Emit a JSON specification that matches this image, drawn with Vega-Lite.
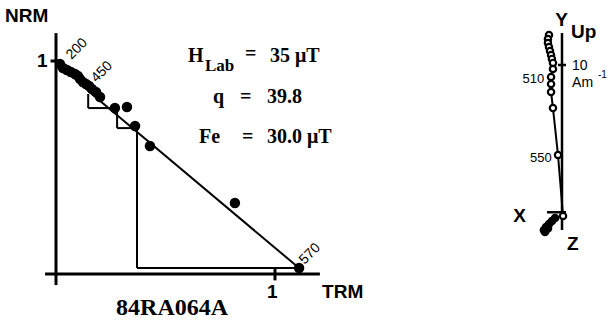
{
  "$schema": "https://vega.github.io/schema/vega-lite/v6.json",
  "autosize": {"type": "pad"},
  "padding": 0,
  "bounds": "flush",
  "spacing": 90,
  "background": "white",
  "config": {"view": {"stroke": null}},
  "datasets": {
    "araiPts": [
      {"trm": 0.018, "nrm": 0.986}, {"trm": 0.032, "nrm": 0.967}, {"trm": 0.050, "nrm": 0.958},
      {"trm": 0.068, "nrm": 0.948}, {"trm": 0.087, "nrm": 0.939}, {"trm": 0.100, "nrm": 0.930},
      {"trm": 0.110, "nrm": 0.915}, {"trm": 0.123, "nrm": 0.901}, {"trm": 0.137, "nrm": 0.892},
      {"trm": 0.151, "nrm": 0.883}, {"trm": 0.164, "nrm": 0.869}, {"trm": 0.183, "nrm": 0.854},
      {"trm": 0.201, "nrm": 0.831}, {"trm": 0.269, "nrm": 0.779}, {"trm": 0.324, "nrm": 0.784},
      {"trm": 0.361, "nrm": 0.695}, {"trm": 0.429, "nrm": 0.601}, {"trm": 0.817, "nrm": 0.333},
      {"trm": 1.110, "nrm": 0.028}
    ],
    "araiAxes": [
      {"trm": 0, "nrm": -0.052, "trm2": 0, "nrm2": 1.131},
      {"trm": -0.05, "nrm": 0, "trm2": 1.205, "nrm2": 0},
      {"trm": -0.025, "nrm": 1, "trm2": 0.012, "nrm2": 1},
      {"trm": 1, "nrm": -0.03, "trm2": 1, "nrm2": 0.03}
    ],
    "araiLines": [
      {"trm": 0.146, "nrm": 0.86, "trm2": 1.11, "nrm2": 0.028},
      {"trm": 0.147, "nrm": 0.845, "trm2": 0.147, "nrm2": 0.779},
      {"trm": 0.147, "nrm": 0.779, "trm2": 0.269, "nrm2": 0.779},
      {"trm": 0.279, "nrm": 0.770, "trm2": 0.279, "nrm2": 0.685},
      {"trm": 0.279, "nrm": 0.685, "trm2": 0.361, "nrm2": 0.685},
      {"trm": 0.37, "nrm": 0.69, "trm2": 0.37, "nrm2": 0.028},
      {"trm": 0.37, "nrm": 0.028, "trm2": 1.11, "nrm2": 0.028}
    ],
    "stepLabels": [
      {"trm": 0.071, "nrm": 1.005, "label": "200"},
      {"trm": 0.185, "nrm": 0.897, "label": "450"},
      {"trm": 1.135, "nrm": 0.042, "label": "570"}
    ],
    "sansLabels": [
      {"trm": -0.233, "nrm": 1.183, "label": "NRM"},
      {"trm": 1.215, "nrm": -0.113, "label": "TRM"},
      {"trm": 0.964, "nrm": -0.113, "label": "1"},
      {"trm": -0.087, "nrm": 0.972, "label": "1"}
    ],
    "serifBig": [
      {"trm": 0.603, "nrm": 0.995, "label": "H"},
      {"trm": 0.863, "nrm": 1.005, "label": "="},
      {"trm": 0.977, "nrm": 0.995, "label": "35 μT"},
      {"trm": 0.717, "nrm": 0.803, "label": "q"},
      {"trm": 0.840, "nrm": 0.803, "label": "="},
      {"trm": 0.963, "nrm": 0.803, "label": "39.8"},
      {"trm": 0.653, "nrm": 0.615, "label": "Fe"},
      {"trm": 0.849, "nrm": 0.615, "label": "="},
      {"trm": 0.963, "nrm": 0.615, "label": "30.0 μT"}
    ],
    "serifSub": [
      {"trm": 0.680, "nrm": 0.953, "label": "Lab"}
    ],
    "title": [
      {"trm": 0.530, "nrm": -0.192, "label": "84RA064A"}
    ],
    "zAxes": [
      {"h": 0, "v": 12.16, "h2": 0, "v2": -1.15},
      {"h": -1.01, "v": 0.05, "h2": 0.27, "v2": 0.05},
      {"h": -0.27, "v": 10, "h2": 0.27, "v2": 10}
    ],
    "zVert": [
      {"k": 1, "h": -0.88, "v": 12.03}, {"k": 2, "h": -0.95, "v": 11.76}, {"k": 3, "h": -0.95, "v": 11.49},
      {"k": 4, "h": -0.88, "v": 11.22}, {"k": 5, "h": -0.81, "v": 10.95}, {"k": 6, "h": -0.74, "v": 10.68},
      {"k": 7, "h": -0.68, "v": 10.41}, {"k": 8, "h": -0.61, "v": 10.14}, {"k": 9, "h": -0.61, "v": 9.73},
      {"k": 10, "h": -0.74, "v": 9.19}, {"k": 11, "h": -0.74, "v": 8.72}, {"k": 12, "h": -0.74, "v": 8.18},
      {"k": 13, "h": -0.61, "v": 7.09}, {"k": 14, "h": -0.27, "v": 3.92}, {"k": 15, "h": 0.07, "v": -0.20}
    ],
    "zHoriz": [
      {"k": 1, "h": -0.47, "v": -0.34}, {"k": 2, "h": -0.68, "v": -0.54}, {"k": 3, "h": -0.88, "v": -0.74},
      {"k": 4, "h": -1.08, "v": -0.95}, {"k": 5, "h": -1.22, "v": -1.15}, {"k": 6, "h": -1.15, "v": -1.28},
      {"k": 7, "h": -0.95, "v": -1.05}
    ],
    "zBold": [
      {"h": -0.45, "v": 12.64, "label": "Y"},
      {"h": 0.61, "v": 11.82, "label": "Up"},
      {"h": -3.3, "v": -0.61, "label": "X"},
      {"h": 0.34, "v": -2.5, "label": "Z"}
    ],
    "zSmall": [
      {"h": 0.68, "v": 9.66, "label": "10"},
      {"h": 0.68, "v": 8.51, "label": "Am"}
    ],
    "zSup": [
      {"h": 2.43, "v": 9.12, "label": "-1"}
    ],
    "zStep": [
      {"h": -1.2, "v": 8.78, "label": "510"},
      {"h": -0.7, "v": 3.45, "label": "550"}
    ]
  },
  "hconcat": [
    {
      "width": 380,
      "height": 321,
      "encoding": {
        "x": {"field": "trm", "type": "quantitative", "scale": {"domain": [-0.2557, 1.4795], "nice": false, "zero": false}, "axis": null},
        "y": {"field": "nrm", "type": "quantitative", "scale": {"domain": [-0.2207, 1.2864], "nice": false, "zero": false}, "axis": null}
      },
      "layer": [
        {"data": {"name": "araiAxes"}, "mark": {"type": "rule", "strokeWidth": 3, "color": "black"},
         "encoding": {"x2": {"field": "trm2"}, "y2": {"field": "nrm2"}}},
        {"data": {"name": "araiLines"}, "mark": {"type": "rule", "strokeWidth": 2, "color": "black"},
         "encoding": {"x2": {"field": "trm2"}, "y2": {"field": "nrm2"}}},
        {"data": {"name": "araiPts"}, "mark": {"type": "circle", "size": 110, "opacity": 1, "color": "black"}},
        {"data": {"name": "stepLabels"}, "mark": {"type": "text", "angle": -45, "align": "left", "baseline": "alphabetic", "font": "Liberation Sans", "fontSize": 14, "color": "black"},
         "encoding": {"text": {"field": "label"}}},
        {"data": {"name": "sansLabels"}, "mark": {"type": "text", "align": "left", "baseline": "alphabetic", "font": "Liberation Sans", "fontWeight": "bold", "fontSize": 19, "color": "black"},
         "encoding": {"text": {"field": "label"}}},
        {"data": {"name": "serifBig"}, "mark": {"type": "text", "align": "left", "baseline": "alphabetic", "font": "Liberation Serif", "fontWeight": "bold", "fontSize": 20, "color": "black"},
         "encoding": {"text": {"field": "label"}}},
        {"data": {"name": "serifSub"}, "mark": {"type": "text", "align": "left", "baseline": "alphabetic", "font": "Liberation Serif", "fontWeight": "bold", "fontSize": 17, "color": "black"},
         "encoding": {"text": {"field": "label"}}},
        {"data": {"name": "title"}, "mark": {"type": "text", "align": "center", "baseline": "alphabetic", "font": "Liberation Serif", "fontWeight": "bold", "fontSize": 24, "color": "black"},
         "encoding": {"text": {"field": "label"}}}
      ]
    },
    {
      "width": 142,
      "height": 321,
      "encoding": {
        "x": {"field": "h", "type": "quantitative", "scale": {"domain": [-6.216, 3.378], "nice": false, "zero": false}, "axis": null},
        "y": {"field": "v", "type": "quantitative", "scale": {"domain": [-7.297, 14.392], "nice": false, "zero": false}, "axis": null}
      },
      "layer": [
        {"data": {"name": "zAxes"}, "mark": {"type": "rule", "strokeWidth": 2.5, "color": "black"},
         "encoding": {"x2": {"field": "h2"}, "y2": {"field": "v2"}}},
        {"data": {"name": "zHoriz"}, "mark": {"type": "line", "strokeWidth": 2, "color": "black"},
         "encoding": {"order": {"field": "k", "type": "quantitative"}}},
        {"data": {"name": "zHoriz"}, "mark": {"type": "circle", "size": 75, "opacity": 1, "color": "black"}},
        {"data": {"name": "zVert"}, "mark": {"type": "line", "strokeWidth": 2, "color": "black"},
         "encoding": {"order": {"field": "k", "type": "quantitative"}}},
        {"data": {"name": "zVert"}, "mark": {"type": "point", "shape": "circle", "size": 40, "filled": false, "fill": "white", "fillOpacity": 1, "stroke": "black", "strokeWidth": 2.2, "opacity": 1}},
        {"data": {"name": "zBold"}, "mark": {"type": "text", "align": "left", "baseline": "alphabetic", "font": "Liberation Sans", "fontWeight": "bold", "fontSize": 19, "color": "black"},
         "encoding": {"text": {"field": "label"}}},
        {"data": {"name": "zSmall"}, "mark": {"type": "text", "align": "left", "baseline": "alphabetic", "font": "Liberation Sans", "fontSize": 14, "color": "black"},
         "encoding": {"text": {"field": "label"}}},
        {"data": {"name": "zSup"}, "mark": {"type": "text", "align": "left", "baseline": "alphabetic", "font": "Liberation Sans", "fontSize": 10, "color": "black"},
         "encoding": {"text": {"field": "label"}}},
        {"data": {"name": "zStep"}, "mark": {"type": "text", "align": "right", "baseline": "alphabetic", "font": "Liberation Sans", "fontSize": 13, "color": "black"},
         "encoding": {"text": {"field": "label"}}}
      ]
    }
  ],
  "resolve": {"scale": {"x": "independent", "y": "independent"}}
}
